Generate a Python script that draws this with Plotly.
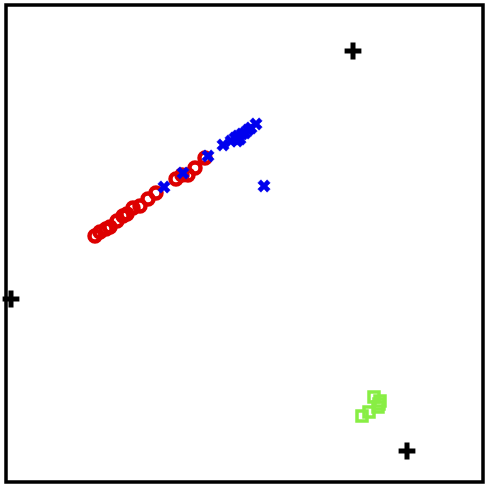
import plotly.graph_objects as go

red_x = [89, 94, 100, 104, 111, 117, 121, 127, 134, 142, 150, 170, 176, 182, 189, 199]
red_y = [246, 250, 253, 255, 261, 266, 268, 274, 276, 283, 289, 303, 307, 307, 314, 324]

blue_x = [158, 177, 202, 217, 225, 229, 232, 234, 236, 239, 242, 245, 250, 258, 231]
blue_y = [295, 309, 326, 337, 341, 344, 346, 343, 348, 349, 352, 354, 358, 296, 341]

green_x = [356, 363, 368, 372, 374, 373]
green_y = [66, 70, 85, 75, 81, 78]

black_x = [347, 5, 401]
black_y = [431, 183, 31]

fig = go.Figure()
fig.add_trace(go.Scatter(x=red_x, y=red_y, mode="markers", cliponaxis=False,
                         marker=dict(symbol="circle-open", size=11, color="#DD0000",
                                     line=dict(width=4.5, color="#DD0000"))))
fig.add_trace(go.Scatter(x=blue_x, y=blue_y, mode="markers", cliponaxis=False,
                         marker=dict(symbol="x", size=11, color="#0000EE",
                                     line=dict(width=0.5, color="#0000EE"))))
fig.add_trace(go.Scatter(x=green_x, y=green_y, mode="markers", cliponaxis=False,
                         marker=dict(symbol="square-open", size=10, color="#88EE44",
                                     line=dict(width=3.5, color="#88EE44"))))
fig.add_trace(go.Scatter(x=black_x, y=black_y, mode="markers", cliponaxis=False,
                         marker=dict(symbol="cross-thin-open", size=12, color="black",
                                     line=dict(width=5, color="black"))))

fig.update_layout(
    width=489, height=487,
    margin=dict(l=6, r=6, t=5, b=5),
    paper_bgcolor="white", plot_bgcolor="white",
    showlegend=False,
    xaxis=dict(range=[0, 477], visible=False, showgrid=False, zeroline=False),
    yaxis=dict(range=[0, 477], visible=False, showgrid=False, zeroline=False),
    shapes=[dict(type="rect", xref="paper", yref="paper", x0=0, y0=0, x1=1, y1=1,
                 line=dict(color="black", width=3.5), layer="below")],
)
fig.write_html("out.html")
